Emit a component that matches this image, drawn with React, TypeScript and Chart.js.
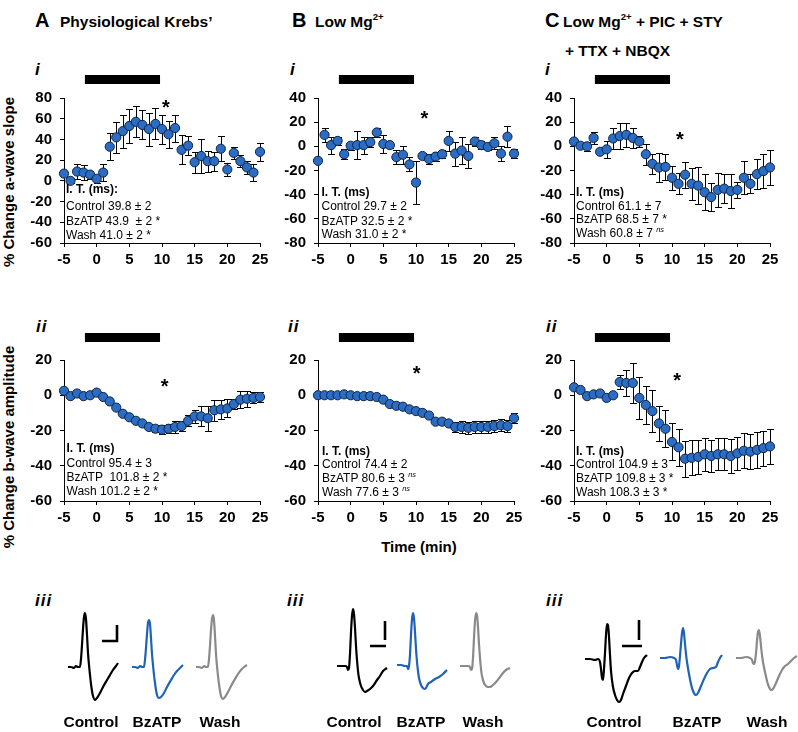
import React, { useEffect, useRef } from 'react';
import { Chart, registerables } from 'chart.js';

Chart.register(...registerables);

const FONT = 'Arial, "Liberation Sans", Helvetica, sans-serif';

// ---------- data ----------
const timeMin = [-5, -4, -3, -2, -1, 0, 1, 2, 3, 4, 5, 6, 7, 8, 9, 10, 11, 12, 13, 14, 15, 16, 17, 18, 19, 20, 21, 22, 23, 24, 25];
const xTickStep = 5;

// a-wave slope (% change)
const aSlopeKrebs = [7, 0, 9, 8, 6, 2, 8, 33, 42, 48, 53, 57, 54, 50, 55, 50, 45, 51, 30, 34, 18, 24, 19, 19, 31, 11, 27, 19, 13, 8, 28];
const aSlopeKrebsErr = [2, 2, 7, 7, 4, 4, 8, 13, 15, 16, 16, 15, 14, 16, 15, 14, 13, 13, 14, 9, 10, 16, 10, 9, 12, 6, 6, 6, 6, 8, 9];
const aSlopeLowMg = [-12, 9.5, 1, 4.5, -6.5, 0.5, 1, 1, 3.5, 11.5, 2, 1, -9, -7, -15, -30, -8, -10.5, -8.5, -6.5, 4.5, -6, -3.5, -8, 4, 1, -0.5, 2.5, -6, 8, -6];
const aSlopeLowMgErr = [2, 5.6, 7, 3, 4, 3.3, 11.7, 7, 4, 3.8, 7.5, 2.2, 5.6, 7.5, 5.8, 18, 2.8, 4.2, 3.8, 3.5, 8.6, 10, 11.4, 9.7, 3.5, 3.2, 2.8, 4.9, 6, 8.6, 3.5];
const aSlopeBlockers = [4, 0.5, 0, 7, -4.5, -2.5, 6.5, 8.5, 9.5, 7, 4, -6.5, -14.5, -17.5, -17, -26, -31, -23.5, -31, -32.5, -38, -42, -36, -35, -37, -36, -26, -31, -23, -20.5, -17.5];
const aSlopeBlockersErr = [2, 1, 3.5, 5, 2, 7, 9, 10.8, 10, 8, 4.7, 8.6, 8, 12.3, 11, 10, 8.8, 10.7, 13, 15, 15, 11.5, 14, 12, 14, 6.5, 13.5, 7.7, 12.3, 14.3, 14.3];

// b-wave amplitude (% change)
const bAmpKrebs = [2.5, -0.5, 1, -0.5, 0, 1.5, -1, -3.5, -7, -10.5, -12.5, -14.5, -16, -18, -19, -19.5, -19, -18, -17.5, -14.5, -12, -12, -13, -8.5, -8, -7.5, -5, -2.5, -2, -1.5, -1];
const bAmpKrebsErr = [0.8, 0.8, 0.8, 0.8, 0.8, 0.8, 0.8, 0.8, 1, 1, 1, 1.2, 1.2, 1.5, 2, 2.4, 2.7, 3.3, 2.9, 3.1, 3.8, 5.7, 7, 5.9, 5.4, 5.1, 3, 4.8, 4.4, 3.1, 2.9];
const bAmpLowMg = [0, 0, 0, 0, 0.5, 0, -0.5, -0.5, -0.5, -1, -2.5, -5, -6, -6.5, -8, -9, -10, -11.5, -15, -15, -16, -18, -18, -18.5, -18, -18, -18, -17.5, -17, -17.5, -13];
const bAmpLowMgErr = [0.5, 0.5, 0.5, 0.5, 0.5, 0.5, 0.5, 0.5, 0.5, 0.5, 0.8, 0.8, 0.8, 0.8, 1, 1, 1, 1, 1.2, 1.2, 1.5, 3, 3.5, 3.5, 3.5, 3.5, 3.5, 3.5, 3.5, 3.5, 3];
const bAmpBlockers = [4.5, 3, -0.5, 0.5, 1, -1.5, 0, 7.5, 7, 7, -1.5, -5.5, -9, -16, -19, -26.5, -29.5, -36, -35.5, -35, -33.5, -34.5, -33.5, -33.5, -34.5, -33, -31.5, -32, -31, -30, -29];
const bAmpBlockersErr = [0.8, 0.8, 0.8, 0.8, 0.8, 0.8, 0.8, 3.8, 7.6, 11.4, 12, 10.7, 11.7, 9.7, 10.5, 10.5, 10.5, 10.3, 10, 9.5, 9.5, 9, 9, 9, 9.5, 9.5, 10, 10, 10, 10, 10];

// BzATP application period (min) and significance markers [time, value]
const bzatpPeriod = [-1.8, 9.7];
const starAi = [10.6, 76];
const starBi = [11.3, 27];
const starCi = [11.2, 10];
const starAii = [10.4, 8];
const starBii = [10.1, 15];
const starCii = [10.8, 11];

// example traces (time in samples, amplitude in arbitrary units)
const krebsControlT = [0, 3, 6, 8, 10, 12, 13, 14, 15, 16, 17, 18, 19, 20, 21, 22, 23, 24, 25, 27, 29, 32, 35, 39, 42, 45, 48, 50];
const krebsControlV = [0, 0, -1, 1, 0, 0, 8, 22, 38, 50, 54, 48, 32, 14, 2, -8, -17, -24, -29, -33, -31, -26, -20, -13, -8, -3, 1, 4];
const krebsBzT = [0, 3, 6, 8, 10, 12, 13, 14, 15, 16, 17, 18, 19, 20, 21, 22, 23, 24, 25, 27, 29, 32, 35, 39, 42, 45, 48, 51];
const krebsBzV = [0, 0, -1, 1, 0, 0, 7, 19, 33, 44, 47, 43, 29, 13, 2, -8, -16, -23, -28, -31, -30, -26, -20, -13, -8, -4, -1, 2];
const krebsWashT = [0, 3, 6, 8, 10, 12, 13, 14, 15, 16, 17, 18, 19, 20, 21, 22, 23, 24, 25, 27, 29, 32, 35, 39, 42, 45, 48, 51];
const krebsWashV = [0, 0, -1, 1, 0, 0, 8, 21, 37, 48, 52, 47, 31, 13, 1, -9, -17, -24, -29, -32, -30, -25, -19, -12, -7, -3, 0, 2];
const krebsScaleT = [34, 49, 49];
const krebsScaleV = [26, 26, 42];

const lowMgControlT = [0, 4, 8, 10, 11, 12, 13, 14, 15, 16, 17, 18, 19, 20, 21, 22, 24, 26, 28, 30, 33, 36, 40, 43, 46, 50];
const lowMgControlV = [0, 0, 0, -1, -4, -2, 12, 34, 50, 57, 52, 38, 20, 6, -5, -12, -20, -24, -26, -25, -23, -20, -14, -10, -5, -2];
const lowMgBzT = [0, 4, 8, 10, 11, 12, 13, 14, 15, 16, 17, 18, 19, 20, 21, 22, 24, 26, 28, 29, 31, 34, 38, 42, 46, 50];
const lowMgBzV = [0, 0, -1, -1, -4, -1, 10, 30, 46, 52, 47, 33, 16, 3, -6, -13, -20, -23, -24, -23, -19, -17, -14, -12, -9, -5];
const lowMgWashT = [0, 4, 8, 10, 11, 12, 13, 14, 15, 16, 17, 18, 19, 20, 21, 22, 24, 26, 28, 30, 33, 36, 40, 43, 46, 50];
const lowMgWashV = [0, 0, 0, -1, -4, -3, 8, 28, 45, 53, 51, 39, 22, 8, -3, -10, -17, -20, -21, -21, -19, -16, -11, -7, -4, -2];
const lowMgScaleT = [33, 49, null, 48, 48];
const lowMgScaleV = [20, 20, null, 26, 45];

const blockersControlT = [0, 5, 10, 13, 15, 16, 17, 18, 19, 20, 21, 22, 23, 24, 25, 26, 28, 30, 32, 34, 36, 38, 41, 44, 47, 50, 53, 55, 57, 59, 62];
const blockersControlV = [0, 0, -1, 0, -3, -10, -19, -21, -10, 6, 24, 35, 34, 22, 4, -12, -28, -36, -41, -43, -41, -35, -27, -19, -14, -12, -12, -8, -3, 1, 4];
const blockersBzT = [0, 5, 10, 14, 16, 17, 18, 19, 20, 21, 22, 23, 24, 25, 26, 27, 29, 31, 33, 36, 38, 41, 44, 47, 50, 53, 56, 58, 60, 62];
const blockersBzV = [0, 0, 1, 0, -2, -7, -11, -8, 2, 14, 25, 30, 25, 14, 4, -4, -16, -26, -33, -37, -35, -28, -21, -15, -11, -10, -9, -4, 0, 3];
const blockersWashT = [0, 5, 10, 14, 16, 17, 18, 19, 20, 21, 22, 23, 24, 25, 26, 27, 29, 31, 33, 35, 37, 40, 43, 46, 49, 52, 55, 58, 61];
const blockersWashV = [0, 0, 1, 0, -2, -5, -6, -3, 5, 17, 26, 28, 22, 12, 3, -4, -14, -23, -29, -32, -31, -25, -18, -12, -8, -6, -3, 0, 2];
const blockersScaleT = [37, 57, null, 54, 54];
const blockersScaleV = [13, 13, null, 19, 39];

// ---------- layout ----------
const AREA_W = 196;
const PAD_L = 60, PAD_T = 30, PAD_R = 14, AX_H = 30;

type Panel = {
  left: number; top: number; h: number; yMin: number; yMax: number;
  values: number[]; errors: number[]; star: number[]; barOffset: number;
};

const panels: Panel[] = [
  { left: 64, top: 98, h: 145, yMin: -60, yMax: 80, values: aSlopeKrebs, errors: aSlopeKrebsErr, star: starAi, barOffset: 23 },
  { left: 318, top: 98, h: 145, yMin: -80, yMax: 40, values: aSlopeLowMg, errors: aSlopeLowMgErr, star: starBi, barOffset: 23 },
  { left: 574, top: 98, h: 145, yMin: -80, yMax: 40, values: aSlopeBlockers, errors: aSlopeBlockersErr, star: starCi, barOffset: 23 },
  { left: 64, top: 360, h: 141, yMin: -60, yMax: 20, values: bAmpKrebs, errors: bAmpKrebsErr, star: starAii, barOffset: 27 },
  { left: 318, top: 360, h: 141, yMin: -60, yMax: 20, values: bAmpLowMg, errors: bAmpLowMgErr, star: starBii, barOffset: 27 },
  { left: 574, top: 360, h: 141, yMin: -60, yMax: 20, values: bAmpBlockers, errors: bAmpBlockersErr, star: starCii, barOffset: 27 },
];

const decoPlugin = {
  id: 'deco',
  beforeDatasetsDraw(chart: any, _a: any, opts: any) {
    const { ctx, scales } = chart;
    const x = scales.x, y = scales.y;
    const pts = chart.data.datasets[0].data;
    ctx.save();
    ctx.strokeStyle = '#000';
    ctx.lineWidth = 1;
    pts.forEach((p: any, i: number) => {
      const e = opts.errors[i];
      const px = Math.round(x.getPixelForValue(p.x)) + 0.5;
      const y1 = Math.round(y.getPixelForValue(p.y + e)) + 0.5;
      const y2 = Math.round(y.getPixelForValue(p.y - e)) + 0.5;
      ctx.beginPath();
      ctx.moveTo(px, y1); ctx.lineTo(px, y2);
      ctx.moveTo(px - 3.5, y1); ctx.lineTo(px + 3.5, y1);
      ctx.moveTo(px - 3.5, y2); ctx.lineTo(px + 3.5, y2);
      ctx.stroke();
    });
    ctx.restore();
  },
  afterDatasetsDraw(chart: any, _a: any, opts: any) {
    const { ctx, scales, chartArea } = chart;
    const x = scales.x, y = scales.y;
    ctx.save();
    ctx.fillStyle = '#000';
    const x1 = x.getPixelForValue(opts.period[0]);
    const x2 = x.getPixelForValue(opts.period[1]);
    ctx.fillRect(x1, chartArea.top - opts.barOffset, x2 - x1, 9);
    ctx.font = `bold 20px ${FONT}`;
    ctx.textAlign = 'center';
    ctx.textBaseline = 'alphabetic';
    ctx.fillText('*', x.getPixelForValue(opts.star[0]), y.getPixelForValue(opts.star[1]) + 11.5);
    ctx.restore();
  },
};

function ScatterPanel({ p }: { p: Panel }) {
  const ref = useRef<HTMLCanvasElement>(null);
  const W = PAD_L + AREA_W + PAD_R;
  const H = PAD_T + p.h + AX_H;
  useEffect(() => {
    const tickFont = { family: FONT, size: 15, weight: 'bold' as const };
    const chart = new Chart(ref.current!, {
      type: 'scatter',
      data: {
        datasets: [{
          data: timeMin.map((t, i) => ({ x: t, y: p.values[i] })),
          pointRadius: 4.6,
          pointBackgroundColor: '#2B6DC4',
          pointBorderColor: '#0E2440',
          pointBorderWidth: 1,
          clip: false as any,
        }],
      },
      options: {
        responsive: false,
        animation: false,
        events: [],
        layout: { padding: { left: 0, top: PAD_T, right: PAD_R, bottom: 0 } },
        plugins: {
          legend: { display: false },
          tooltip: { enabled: false },
          deco: { errors: p.errors, star: p.star, period: bzatpPeriod, barOffset: p.barOffset },
        } as any,
        scales: {
          x: {
            type: 'linear', min: timeMin[0], max: timeMin[timeMin.length - 1],
            afterFit: (s: any) => { s.height = AX_H; },
            ticks: { stepSize: xTickStep, font: tickFont, color: '#000', padding: 4, maxRotation: 0, autoSkip: false },
            grid: { display: true, drawOnChartArea: false, drawTicks: true, tickLength: 4, color: '#000' },
            border: { display: true, color: '#000', width: 1 },
          },
          y: {
            min: p.yMin, max: p.yMax,
            afterFit: (s: any) => { s.width = PAD_L; },
            ticks: { stepSize: 20, font: tickFont, color: '#000', padding: 8, autoSkip: false },
            grid: { display: true, drawOnChartArea: false, drawTicks: true, tickLength: 4, color: '#000' },
            border: { display: true, color: '#000', width: 1 },
          },
        },
      },
      plugins: [decoPlugin],
    } as any);
    return () => chart.destroy();
  }, []);
  return (
    <canvas ref={ref} width={W} height={H}
      style={{ position: 'absolute', left: p.left - PAD_L, top: p.top - PAD_T, width: W, height: H }} />
  );
}

type Trace = { x0: number; base: number; t: number[]; v: number[]; color: string; scaleT?: (number | null)[]; scaleV?: (number | null)[] };
const T_MIN = -4, T_MAX = 68, V_MIN = -53, V_MAX = 62;

const traces: Trace[] = [
  { x0: 68, base: 667, t: krebsControlT, v: krebsControlV, color: '#000000', scaleT: krebsScaleT, scaleV: krebsScaleV },
  { x0: 132, base: 667, t: krebsBzT, v: krebsBzV, color: '#1F63B8' },
  { x0: 196, base: 667, t: krebsWashT, v: krebsWashV, color: '#8A8A8A' },
  { x0: 337, base: 666, t: lowMgControlT, v: lowMgControlV, color: '#000000', scaleT: lowMgScaleT, scaleV: lowMgScaleV },
  { x0: 397, base: 665, t: lowMgBzT, v: lowMgBzV, color: '#1F63B8' },
  { x0: 460, base: 666, t: lowMgWashT, v: lowMgWashV, color: '#8A8A8A' },
  { x0: 585, base: 659, t: blockersControlT, v: blockersControlV, color: '#000000', scaleT: blockersScaleT, scaleV: blockersScaleV },
  { x0: 660, base: 658, t: blockersBzT, v: blockersBzV, color: '#1F63B8' },
  { x0: 736, base: 658, t: blockersWashT, v: blockersWashV, color: '#8A8A8A' },
];

function TracePanel({ tr }: { tr: Trace }) {
  const ref = useRef<HTMLCanvasElement>(null);
  const W = T_MAX - T_MIN, H = V_MAX - V_MIN;
  useEffect(() => {
    const datasets: any[] = [{
      data: tr.t.map((t, i) => ({ x: t, y: tr.v[i] })),
      showLine: true, borderColor: tr.color, borderWidth: 2.2, pointRadius: 0,
      cubicInterpolationMode: 'monotone', clip: false,
    }];
    if (tr.scaleT && tr.scaleV) {
      datasets.push({
        data: tr.scaleT.map((t, i) => ({ x: t, y: tr.scaleV![i] })),
        showLine: true, borderColor: '#000', borderWidth: 2.6, pointRadius: 0, spanGaps: false, clip: false,
      });
    }
    const chart = new Chart(ref.current!, {
      type: 'scatter',
      data: { datasets },
      options: {
        responsive: false, animation: false, events: [],
        layout: { padding: 0 },
        plugins: { legend: { display: false }, tooltip: { enabled: false } },
        scales: {
          x: { type: 'linear', display: false, min: T_MIN, max: T_MAX },
          y: { type: 'linear', display: false, min: V_MIN, max: V_MAX },
        },
      },
    } as any);
    return () => chart.destroy();
  }, []);
  return (
    <canvas ref={ref} width={W} height={H}
      style={{ position: 'absolute', left: tr.x0 + T_MIN, top: tr.base - V_MAX, width: W, height: H }} />
  );
}

// ---------- text ----------
function Txt({ x, y, size, bold, italic, center, children, ls }: any) {
  return (
    <div style={{
      position: 'absolute', left: x, top: y - 0.8465 * size, fontFamily: FONT, fontSize: size,
      lineHeight: `${size}px`, fontWeight: bold ? 700 : 400, fontStyle: italic ? 'italic' : 'normal',
      whiteSpace: 'pre', color: '#000', transform: center ? 'translateX(-50%)' : undefined,
      letterSpacing: ls || 0,
    }}>{children}</div>
  );
}

const Sup = ({ children, italic, size }: any) => (
  <span style={{ position: 'relative', top: -size * 0.45, fontSize: size * 0.62, fontStyle: italic ? 'italic' : 'normal' }}>{children}</span>
);

type Note = { left: number; base: number[]; head: string; lines: { text: string; ns?: boolean }[] };
const notes: Note[] = [
  { left: 66, base: [193, 210.3, 225.3, 239.3], head: 'I. T. (ms):', lines: [{ text: 'Control 39.8 ± 2' }, { text: 'BzATP 43.9  ± 2 *' }, { text: 'Wash 41.0 ± 2 *' }] },
  { left: 321.5, base: [196.3, 210, 225, 238.3], head: 'I. T. (ms)', lines: [{ text: 'Control 29.7 ± 2' }, { text: 'BzATP 32.5 ± 2 *' }, { text: 'Wash 31.0 ± 2 *' }] },
  { left: 576, base: [196.3, 210, 223.5, 237.3], head: 'I. T. (ms)', lines: [{ text: 'Control 61.1 ± 7' }, { text: 'BzATP 68.5 ± 7 *' }, { text: 'Wash 60.8 ± 7 ', ns: true }] },
  { left: 66.5, base: [452.3, 467, 481, 495.3], head: 'I. T. (ms)', lines: [{ text: 'Control 95.4 ± 3' }, { text: 'BzATP  101.8 ± 2 *' }, { text: 'Wash 101.2 ± 2 *' }] },
  { left: 322, base: [455, 468.3, 482.3, 496.3], head: 'I. T. (ms)', lines: [{ text: 'Control 74.4 ± 2' }, { text: 'BzATP 80.6 ± 3 ', ns: true }, { text: 'Wash 77.6 ± 3 ', ns: true }] },
  { left: 576, base: [455, 468.6, 482.6, 496], head: 'I. T. (ms)', lines: [{ text: 'Control 104.9 ± 3' }, { text: 'BzATP 109.8 ± 3 *' }, { text: 'Wash 108.3 ± 3 *' }] },
];

const traceLabels = [
  { x: 91, text: 'Control' }, { x: 157, text: 'BzATP' }, { x: 220, text: 'Wash' },
  { x: 354, text: 'Control' }, { x: 421, text: 'BzATP' }, { x: 483, text: 'Wash' },
  { x: 614, text: 'Control' }, { x: 697, text: 'BzATP' }, { x: 767, text: 'Wash' },
];

export default function App() {
  return (
    <div style={{ position: 'absolute', left: 0, top: 0, width: 798, height: 732, overflow: 'hidden', background: '#fff' }}>
      {/* titles */}
      <Txt x={35} y={27} size={20} bold>A</Txt>
      <Txt x={60} y={27} size={15.5} bold>Physiological Krebs’</Txt>
      <Txt x={292} y={27} size={20} bold>B</Txt>
      <Txt x={315} y={27} size={15.5} bold>Low Mg<Sup size={15.5}>2+</Sup></Txt>
      <Txt x={545} y={27} size={20} bold>C</Txt>
      <Txt x={563} y={27} size={15.5} bold>Low Mg<Sup size={15.5}>2+</Sup> + PIC + STY</Txt>
      <Txt x={565} y={56} size={15.5} bold>+ TTX + NBQX</Txt>

      {/* row labels */}
      {[35, 290, 545].map((x, i) => <Txt key={'i' + i} x={x} y={75} size={17} bold italic>i</Txt>)}
      {[36, 288, 546].map((x, i) => <Txt key={'ii' + i} x={x} y={332} size={17} bold italic ls={1}>ii</Txt>)}
      {[35, 287, 546].map((x, i) => <Txt key={'iii' + i} x={x} y={606} size={17} bold italic ls={1}>iii</Txt>)}

      {/* axis titles */}
      <div style={{ position: 'absolute', left: 7.5, top: 181.5, transform: 'translate(-50%,-50%) rotate(-90deg)', fontFamily: FONT, fontSize: 15, fontWeight: 700, lineHeight: '15px', whiteSpace: 'nowrap' }}>% Change a-wave slope</div>
      <div style={{ position: 'absolute', left: 7.5, top: 447, transform: 'translate(-50%,-50%) rotate(-90deg)', fontFamily: FONT, fontSize: 15, fontWeight: 700, lineHeight: '15px', whiteSpace: 'nowrap' }}>% Change b-wave amplitude</div>
      <Txt x={419} y={552} size={15} bold center>Time (min)</Txt>

      {panels.map((p, i) => <ScatterPanel key={'p' + i} p={p} />)}
      {traces.map((tr, i) => <TracePanel key={'t' + i} tr={tr} />)}

      {notes.map((n, i) => (
        <React.Fragment key={'n' + i}>
          <Txt x={n.left} y={n.base[0]} size={12} bold>{n.head}</Txt>
          {n.lines.map((l, j) => (
            <Txt key={j} x={n.left} y={n.base[j + 1]} size={12}>{l.text}{l.ns ? <Sup size={12} italic>ns</Sup> : null}</Txt>
          ))}
        </React.Fragment>
      ))}

      {traceLabels.map((l, i) => <Txt key={'l' + i} x={l.x} y={727} size={15.5} bold center>{l.text}</Txt>)}
    </div>
  );
}
